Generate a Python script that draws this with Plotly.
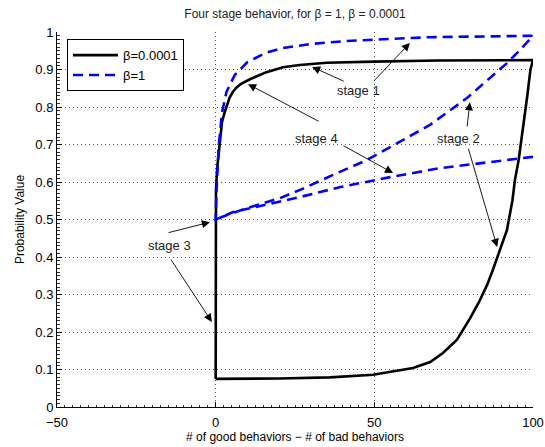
import plotly.graph_objects as go

# beta = 0.0001 (black solid loop)
black_x = [0, 0, 0.1, 0.5, 1.2, 1.4, 2, 2.8, 3.5, 4.4, 5.4, 6.6, 8, 10.8, 16, 21.2, 26.5, 35, 50, 70, 100,
           99.2, 98.2, 97, 95.5, 94.3, 93.5, 91.8, 90.3, 88.8, 87.2, 85.5, 83, 80.2, 78, 76, 71.6, 67.6, 62.2, 55, 49.6, 36, 20, 0]
black_y = [0.075, 0.5, 0.579, 0.64, 0.693, 0.712, 0.76, 0.785, 0.805, 0.825, 0.84, 0.852, 0.862, 0.874, 0.893, 0.906, 0.912, 0.918, 0.921, 0.924, 0.925,
           0.90, 0.83, 0.76, 0.66, 0.605, 0.55, 0.472, 0.435, 0.40, 0.362, 0.325, 0.28, 0.237, 0.205, 0.179, 0.144, 0.12, 0.104, 0.093, 0.086, 0.079, 0.076, 0.075]

# beta = 1 (blue dashed)
blue_x = [100, 86.4, 70.7, 55, 39, 26.6, 16, 5.5, 0,
          0, 0.3, 1, 2, 3.4, 6, 10, 16, 21, 30, 41, 67, 100,
          95.9, 91.8, 87.4, 83.3, 79.2, 67.5, 57.1, 47.5, 37, 26.6, 20.3, 10.8, 3.6, 0]
blue_y = [0.667, 0.653, 0.637, 0.613, 0.586, 0.56, 0.539, 0.52, 0.5,
          0.5, 0.587, 0.70, 0.785, 0.84, 0.885, 0.92, 0.945, 0.957, 0.968, 0.976, 0.986, 0.99,
          0.952, 0.917, 0.885, 0.853, 0.824, 0.752, 0.704, 0.658, 0.619, 0.579, 0.557, 0.533, 0.512, 0.5]

x_ticks = [-50, 0, 50, 100]
y_ticks = [0, 0.1, 0.2, 0.3, 0.4, 0.5, 0.6, 0.7, 0.8, 0.9, 1]

labels = ["stage 1", "stage 4", "stage 2", "stage 3"]
label_x = [44.9, 31.9, 76.4, -14.4]
label_y = [0.843, 0.717, 0.717, 0.432]

# arrows: (tail -> tip)
arrow_tail_x = [40.8, 49.6, 32.9, 39.8, 79.2, 79.5, -15.3, -14.4]
arrow_tail_y = [0.867, 0.867, 0.760, 0.699, 0.744, 0.693, 0.464, 0.397]
arrow_tip_x = [30.4, 61.2, 10.2, 55.9, 80.1, 88.7, -1.8, -1.2]
arrow_tip_y = [0.907, 0.971, 0.861, 0.624, 0.813, 0.427, 0.493, 0.227]

font = "Liberation Sans, Arial, Helvetica, sans-serif"

fig = go.Figure()
fig.add_trace(go.Scatter(x=black_x, y=black_y, mode="lines", name="β=0.0001",
                         line=dict(color="black", width=2.6)))
fig.add_trace(go.Scatter(x=blue_x, y=blue_y, mode="lines", name="β=1",
                         line=dict(color="#0000ff", width=2.6, dash="10px,6px")))

for t, lx, ly in zip(labels, label_x, label_y):
    fig.add_annotation(x=lx, y=ly, text=t, showarrow=False,
                       font=dict(size=13, color="#222", family=font))

for tx, ty, hx, hy in zip(arrow_tail_x, arrow_tail_y, arrow_tip_x, arrow_tip_y):
    fig.add_annotation(x=hx, y=hy, ax=tx, ay=ty, xref="x", yref="y", axref="x", ayref="y",
                       text="", showarrow=True, arrowhead=2, arrowsize=1.8, arrowwidth=0.9,
                       arrowcolor="black", standoff=0, startstandoff=0)

axis_common = dict(showline=True, linecolor="black", linewidth=1, mirror=False,
                   ticks="inside", ticklen=5, tickcolor="black", automargin=False,
                   showgrid=True, gridcolor="#555", griddash="1px,3px", gridwidth=1,
                   zeroline=False, tickfont=dict(size=13, color="black", family=font))

fig.update_xaxes(range=[-50, 100], tickvals=x_ticks, ticklabelstandoff=3,
                 title=dict(text="# of good behaviors − # of bad behaviors", font=dict(size=12, color="black", family=font), standoff=2),
                 minor=dict(ticks="inside", ticklen=2.5, dtick=2.5, tickcolor="#333", showgrid=False),
                 **axis_common)
fig.update_yaxes(range=[0, 1], tickvals=y_ticks,
                 title=dict(text="Probability Value", font=dict(size=12, color="black", family=font), standoff=8),
                 minor=dict(ticks="inside", ticklen=2.5, dtick=0.01, tickcolor="#333", showgrid=False),
                 **axis_common)

fig.update_layout(
    width=545, height=447,
    margin=dict(l=57, r=12, t=32, b=40),
    plot_bgcolor="white", paper_bgcolor="white",
    title=dict(text="Four stage behavior, for β = 1, β = 0.0001", x=(57 + 533) / 2 / 545, xanchor="center",
               y=1 - 14 / 447, yanchor="middle", font=dict(size=12, color="#222", family=font)),
    legend=dict(x=0.021, y=0.981, xanchor="left", yanchor="top", bgcolor="white",
                bordercolor="black", borderwidth=1, font=dict(size=13, color="black", family=font),
                itemwidth=45, tracegroupgap=0),
    showlegend=True,
)

fig.write_html("out.html", config={"displayModeBar": False},
               post_script="document.body.style.margin='0';")
